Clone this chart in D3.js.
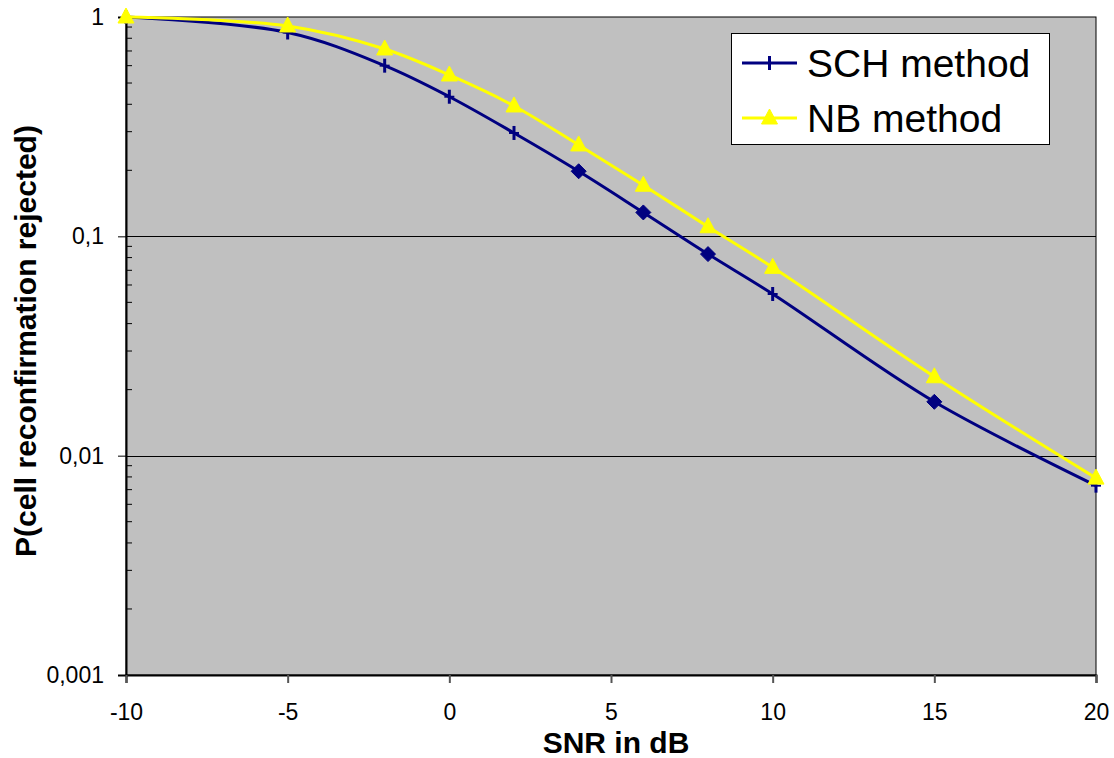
<!DOCTYPE html>
<html>
<head>
<meta charset="utf-8">
<script src="https://cdn.jsdelivr.net/npm/d3@7"></script>
<style>
  html, body { margin: 0; padding: 0; background: #ffffff; }
  svg { display: block; font-family: Arial, "Liberation Sans", sans-serif; }
</style>
</head>
<body>
<svg id="chart" width="1114" height="758"></svg>
<script>
// ---- data ----
const snr = [-10, -5, -2, 0, 2, 4, 6, 8, 10, 15, 20];
const schValues = [1.0, 0.85, 0.60, 0.433, 0.296, 0.198, 0.1285, 0.083, 0.0546, 0.0176, 0.0073];
const nbValues  = [1.0, 0.91, 0.715, 0.544, 0.393, 0.261, 0.171, 0.1106, 0.0722, 0.0229, 0.0079];
const schMarkers = ["plus", "plus", "plus", "plus", "plus", "diamond", "diamond", "diamond", "plus", "diamond", "plus"];
const xTicks = [-10, -5, 0, 5, 10, 15, 20];
const xTickLabels = ["-10", "-5", "0", "5", "10", "15", "20"];
const yTicks = [0.001, 0.01, 0.1, 1];
const yTickLabels = ["0,001", "0,01", "0,1", "1"];
const seriesNames = ["SCH method", "NB method"];
const xTitle = "SNR in dB";
const yTitle = "P(cell reconfirmation rejected)";

// ---- layout ----
const svg = d3.select("#chart");
const L = 126, R = 1096, T = 17, B = 675;
const x = d3.scaleLinear().domain([-10, 20]).range([L, R]);
const y = d3.scaleLog().domain([0.001, 1]).range([B, T]);

const navy = "#000080", yellow = "#FFFF00";
const FONT = "Arial, 'Liberation Sans', sans-serif";

// plot background
svg.append("rect").attr("x", L).attr("y", T).attr("width", R - L).attr("height", B - T)
  .attr("fill", "#C0C0C0").attr("stroke", "#000").attr("stroke-width", 1);

// gridlines at major decades (except ends)
svg.append("g").selectAll("line").data(yTicks.filter(d => d > 0.001 && d < 1)).join("line")
  .attr("x1", L).attr("x2", R).attr("y1", d => Math.round(y(d)) + 0.5).attr("y2", d => Math.round(y(d)) + 0.5)
  .attr("stroke", "#000").attr("stroke-width", 1);

// y axis
const yAxis = d3.axisLeft(y).tickValues(yTicks).tickSize(8).tickFormat((d, i) => yTickLabels[i]);
const gy = svg.append("g").attr("transform", `translate(${L},0)`).call(yAxis);
gy.attr("font-family", FONT).attr("font-size", 23);
gy.select(".domain").attr("stroke", "#000").attr("stroke-width", 2);
gy.selectAll(".tick line").attr("stroke", "#000");
gy.selectAll(".tick text").attr("fill", "#000").attr("x", -22);

// y minor ticks (inside)
const minor = [];
[0.001, 0.01, 0.1].forEach(dec => { for (let k = 2; k <= 9; k++) minor.push(dec * k); });
svg.append("g").selectAll("line").data(minor).join("line")
  .attr("x1", L).attr("x2", L + 6).attr("y1", d => y(d)).attr("y2", d => y(d))
  .attr("stroke", "#000").attr("stroke-width", 1);

// x axis
const xAxis = d3.axisBottom(x).tickValues(xTicks).tickSize(8).tickPadding(21)
  .tickFormat((d, i) => xTickLabels[i]);
const gx = svg.append("g").attr("transform", `translate(0,${B})`).call(xAxis);
gx.attr("font-family", FONT).attr("font-size", 23);
gx.select(".domain").attr("stroke", "#000").attr("stroke-width", 2);
gx.selectAll(".tick line").attr("stroke", "#555").attr("stroke-width", 2);
gx.selectAll(".tick text").attr("fill", "#000");

// axis titles
svg.append("text").attr("x", 616).attr("y", 753).attr("text-anchor", "middle")
  .attr("font-size", 30).attr("font-weight", "bold").text(xTitle);
svg.append("text").attr("transform", "translate(36,341) rotate(-90)").attr("text-anchor", "middle")
  .attr("font-size", 30).attr("font-weight", "bold").text(yTitle);

// lines
const line = d3.line().x(d => x(d[0])).y(d => y(d[1])).curve(d3.curveCatmullRom.alpha(0.5));
const schData = snr.map((s, i) => [s, schValues[i]]);
const nbData = snr.map((s, i) => [s, nbValues[i]]);

svg.append("path").datum(schData).attr("d", line).attr("fill", "none")
  .attr("stroke", navy).attr("stroke-width", 3);

// SCH markers
function drawPlus(g, cx, cy) {
  g.append("line").attr("x1", cx).attr("x2", cx).attr("y1", cy - 7).attr("y2", cy + 7)
    .attr("stroke", navy).attr("stroke-width", 3);
  g.append("line").attr("x1", cx - 5).attr("x2", cx + 5).attr("y1", cy).attr("y2", cy)
    .attr("stroke", navy).attr("stroke-width", 2);
}
const gm = svg.append("g");
schData.forEach((d, i) => {
  const cx = x(d[0]), cy = y(d[1]);
  if (schMarkers[i] === "diamond") {
    gm.append("path").attr("d", `M${cx},${cy - 7.5}L${cx + 7.5},${cy}L${cx},${cy + 7.5}L${cx - 7.5},${cy}Z`)
      .attr("fill", navy).attr("stroke", navy).attr("stroke-width", 1);
  } else {
    drawPlus(gm, cx, cy);
  }
});

svg.append("path").datum(nbData).attr("d", line).attr("fill", "none")
  .attr("stroke", yellow).attr("stroke-width", 3);

function triPath(cx, cy) {
  return `M${cx},${cy - 9}L${cx + 8},${cy + 6}L${cx - 8},${cy + 6}Z`;
}
svg.append("g").selectAll("path").data(nbData).join("path")
  .attr("d", d => triPath(x(d[0]), y(d[1])))
  .attr("fill", yellow).attr("stroke", yellow).attr("stroke-width", 1);

// legend
const lg = svg.append("g");
lg.append("rect").attr("x", 731.5).attr("y", 33.5).attr("width", 318).attr("height", 111)
  .attr("fill", "#fff").attr("stroke", "#000").attr("stroke-width", 1);
lg.append("line").attr("x1", 742).attr("x2", 797).attr("y1", 63).attr("y2", 63)
  .attr("stroke", navy).attr("stroke-width", 3);
drawPlus(lg, 769.5, 63);
lg.append("line").attr("x1", 742).attr("x2", 797).attr("y1", 118).attr("y2", 118)
  .attr("stroke", yellow).attr("stroke-width", 3);
lg.append("path").attr("d", triPath(769.5, 118)).attr("fill", yellow).attr("stroke", yellow);
lg.append("text").attr("x", 807).attr("y", 77).attr("font-size", 39).text(seriesNames[0]);
lg.append("text").attr("x", 807).attr("y", 132).attr("font-size", 39).text(seriesNames[1]);
</script>
</body>
</html>
